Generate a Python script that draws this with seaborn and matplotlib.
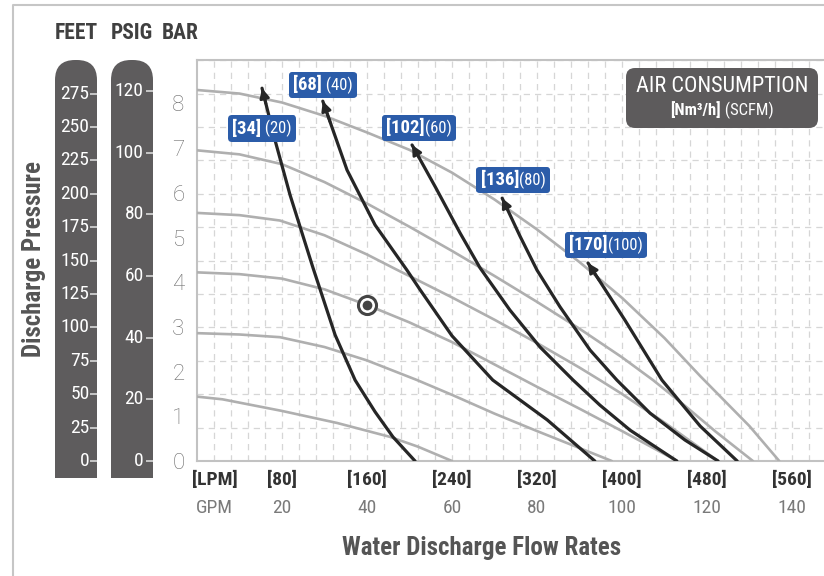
import matplotlib
matplotlib.use("Agg")
import numpy as np
import pandas as pd
import seaborn as sns
import matplotlib.pyplot as plt
from matplotlib.patches import FancyBboxPatch, Rectangle
from matplotlib.lines import Line2D
from matplotlib.offsetbox import TextArea, HPacker, AnnotationBbox
from matplotlib.ticker import FixedLocator
from matplotlib.transforms import Affine2D, blended_transform_factory

sns.set_style("white")
COND = ["Roboto Condensed", "Liberation Sans Narrow", "Roboto", "DejaVu Sans"]
LIGHT = ["Roboto", "DejaVu Sans"]
plt.rcParams["font.family"] = COND

# ---------------- data (GPM vs bar) ----------------
# pump performance curves at different air inlet pressures (grey)
g120_x = [0, 10, 20, 30, 40, 50, 60, 70, 80, 90, 100, 110, 118.4, 130, 137]
g120_y = [8.30, 8.22, 8.02, 7.72, 7.35, 6.96, 6.45, 5.85, 5.18, 4.45, 3.65,
          2.75, 1.90, 0.78, 0.0]
g100_x = [0, 10, 20, 30, 40, 50, 60, 70, 80, 90, 100, 107.3, 115, 122, 130.8]
g100_y = [6.95, 6.86, 6.64, 6.24, 5.76, 5.24, 4.70, 4.14, 3.56, 2.96, 2.32,
          1.81, 1.22, 0.66, 0.0]
g80_x = [0, 10, 19.5, 30, 40, 47, 60, 70, 80, 90, 94.8, 100, 110, 122.6]
g80_y = [5.55, 5.50, 5.38, 5.05, 4.62, 4.28, 3.66, 3.16, 2.64, 2.09, 1.81,
         1.50, 0.86, 0.0]
g60_x = [0, 10, 20, 30, 40, 50, 60, 70, 80, 90, 100, 113]
g60_y = [4.22, 4.18, 4.08, 3.84, 3.49, 3.10, 2.66, 2.16, 1.66, 1.17, 0.67, 0.0]
g40_x = [0, 10, 19.5, 30, 40, 51.8, 60, 70, 80, 90, 97.6]
g40_y = [2.86, 2.83, 2.77, 2.55, 2.25, 1.81, 1.48, 1.06, 0.67, 0.29, 0.0]
g20_x = [0, 6, 20, 33, 45.4, 52, 60]
g20_y = [1.44, 1.38, 1.12, 0.85, 0.54, 0.32, 0.0]
grey_curves = [(g120_x, g120_y), (g100_x, g100_y), (g80_x, g80_y),
               (g60_x, g60_y), (g40_x, g40_y), (g20_x, g20_y)]

# air consumption curves (black), first point = arrow tip
a20_x = [15.3, 18.35, 21.9, 27.3, 32.5, 37.2, 41.9, 46.1, 51.3]
a20_y = [8.34, 7.18, 5.95, 4.32, 2.82, 1.81, 1.10, 0.54, 0.0]
a40_x = [29.6, 35.3, 41.9, 49.4, 52.5, 60.0, 69.6, 82.4, 93.6]
a40_y = [8.05, 6.51, 5.28, 4.27, 3.83, 2.80, 1.81, 0.92, 0.0]
a60_x = [50.6, 56.2, 61.9, 66.6, 73.6, 80.7, 88.5, 94.8, 101.9, 112.9]
a60_y = [7.07, 6.11, 5.10, 4.32, 3.38, 2.55, 1.81, 1.25, 0.69, 0.0]
a80_x = [71.8, 76.0, 80.0, 85.4, 92.5, 98.8, 106.6, 114.8, 122.6]
a80_y = [5.88, 5.03, 4.27, 3.45, 2.48, 1.81, 1.07, 0.47, 0.0]
a100_x = [92.0, 100.7, 109.4, 118.4, 127.1]
a100_y = [4.43, 3.15, 1.81, 0.78, 0.0]
air_curves = [(a20_x, a20_y), (a40_x, a40_y), (a60_x, a60_y),
              (a80_x, a80_y), (a100_x, a100_y)]

# labels of air curves
air_nm3 = ["[34]", "[68]", "[102]", "[136]", "[170]"]
air_scfm = [" (20)", " (40)", "(60)", "(80)", "(100)"]
air_lab_x = [15.3, 29.6, 52.2, 74.4, 96.2]
air_lab_y = [7.44, 8.41, 7.45, 6.29, 4.83]

# operating point
op_x = [40]
op_y = [3.49]

# tick labels
bar_ticks = [0, 1, 2, 3, 4, 5, 6, 7, 8]
feet_ticks = [0, 25, 50, 75, 100, 125, 150, 175, 200, 225, 250, 275]
psig_ticks = [0, 20, 40, 60, 80, 100, 120]
gpm_ticks = [20, 40, 60, 80, 100, 120, 140]
x_lab_pos = [4.2, 20, 40, 60, 80, 100, 120, 140]
lpm_labels = ["[LPM]", "[80]", "[160]", "[240]", "[320]", "[400]", "[480]", "[560]"]
gpm_labels = ["GPM", "20", "40", "60", "80", "100", "120", "140"]

FT_PER_BAR = 33.455
PSI_PER_BAR = 14.5038

# ---------------- figure ----------------
W, H = 824, 576
fig = plt.figure(figsize=(W / 100, H / 100), dpi=100)
fig.patch.set_facecolor("white")
PX = Affine2D().scale(1.0 / W, 1.0 / H) + fig.transFigure


def fx(px):
    return px / W


def fy(py):
    return 1 - py / H


AX_L, AX_R, AX_T, AX_B = 197, 824, 60, 461
ax = fig.add_axes([fx(AX_L), fy(AX_B), fx(AX_R) - fx(AX_L), fy(AX_T) - fy(AX_B)])
XMAX = (AX_R - AX_L) / 4.25
YMAX = (AX_B - AX_T) / 44.7
ax.set_xlim(0, XMAX)
ax.set_ylim(0, YMAX)

# grid
ax.xaxis.set_major_locator(FixedLocator(gpm_ticks))
ax.xaxis.set_minor_locator(FixedLocator(list(np.arange(4, XMAX, 4))))
ax.yaxis.set_major_locator(FixedLocator(bar_ticks))
ax.yaxis.set_minor_locator(FixedLocator([f / FT_PER_BAR for f in range(25, 301, 25)]))
ax.grid(False)
ax.grid(which="both", axis="x", color="#d6d6d6", lw=0.9, ls=(0, (5, 4)))
ax.grid(which="minor", axis="y", color="#d6d6d6", lw=0.9, ls=(0, (5, 4)))
ax.set_axisbelow(True)

ax.tick_params(axis="x", which="major", direction="in", length=7, width=1.2,
               color="#a8a8a8", labelbottom=False)
ax.tick_params(axis="x", which="minor", direction="in", length=4, width=1.0,
               color="#c0c0c0")
ax.tick_params(axis="y", which="major", direction="in", length=7, width=1.2,
               color="#a0a0a0", pad=9)
ax.tick_params(axis="y", which="minor", length=0)
ax.set_yticklabels([str(t) for t in bar_ticks], family=LIGHT, fontweight="light",
                   fontsize=16, color="#6c6c6c")

for s in ["left", "bottom", "top"]:
    ax.spines[s].set_color("#c2c2c2")
    ax.spines[s].set_linewidth(1.5)
ax.spines["right"].set_visible(False)

# grey performance curves
for gx, gy in grey_curves:
    sns.lineplot(x=gx, y=gy, ax=ax, color="#afafaf", lw=1.9, sort=False,
                 estimator=None, zorder=3)

# black air curves with arrows
for (cx, cy) in air_curves:
    sns.lineplot(x=cx, y=cy, ax=ax, color="#262626", lw=2.3, sort=False,
                 estimator=None, zorder=4)
    tx, ty = cx[0], cy[0]
    sx = tx + 0.3 * (cx[1] - tx)
    sy = ty + 0.3 * (cy[1] - ty)
    ax.annotate("", xy=(tx, ty), xytext=(sx, sy),
                arrowprops=dict(arrowstyle="-|>", color="#262626", lw=2.0,
                                mutation_scale=14, shrinkA=0, shrinkB=0),
                zorder=5)

ax.set_xlabel("")
ax.set_ylabel("")
if ax.get_legend():
    ax.get_legend().remove()

# air labels
BLUE = "#2b5ca9"
for n, s, lx, ly in zip(air_nm3, air_scfm, air_lab_x, air_lab_y):
    t1 = TextArea(n, textprops=dict(color="white", fontsize=13.5,
                                    fontweight="bold", family=COND))
    t2 = TextArea(s, textprops=dict(color="white", fontsize=12, family=COND))
    pk = HPacker(children=[t1, t2], pad=0, sep=0, align="baseline")
    ab = AnnotationBbox(pk, (lx, ly), xycoords="data", frameon=True, pad=0.3,
                        box_alignment=(0.5, 0.5),
                        bboxprops=dict(boxstyle="round,rounding_size=0.25",
                                       fc=BLUE, ec="none"), zorder=6)
    ax.add_artist(ab)

# operating point marker
ax.plot(op_x, op_y, "o", ms=13, mfc="white", mec="#444444", mew=2.2, zorder=7)
ax.plot(op_x, op_y, "o", ms=7, mfc="#444444", mec="none", zorder=8)

# AIR CONSUMPTION box
fig.add_artist(FancyBboxPatch((626, H - 128), 192, 60,
                              boxstyle="round,pad=0,rounding_size=9",
                              fc="#5d5b5c", ec="none", transform=PX, zorder=10))
fig.text(fx(722), fy(86), "AIR CONSUMPTION", ha="center", va="center",
         color="white", fontsize=16, zorder=11)
t1 = TextArea("[Nm³/h]", textprops=dict(color="white", fontsize=12,
                                         fontweight="bold", family=COND))
t2 = TextArea(" (SCFM)", textprops=dict(color="white", fontsize=12, family=COND))
pk = HPacker(children=[t1, t2], pad=0, sep=0, align="baseline")
ab = AnnotationBbox(pk, (fx(722), fy(110)), xycoords="figure fraction",
                    frameon=False, box_alignment=(0.5, 0.5), zorder=11)
fig.add_artist(ab)

# x labels
btf = blended_transform_factory(ax.transData, fig.transFigure)
for p, l1, l2 in zip(x_lab_pos, lpm_labels, gpm_labels):
    ax.text(p, fy(480), l1, transform=btf, ha="center", va="center",
            fontsize=14, fontweight="bold", color="#333333", clip_on=False)
    ax.text(p, fy(508), l2, transform=btf, ha="center", va="center",
            fontsize=14, color="#7a7a7a", clip_on=False)

fig.text(fx(482), fy(548), "Water Discharge Flow Rates", ha="center",
         va="center", fontsize=18, fontweight="bold", color="#555555")
fig.text(fx(34), fy(259), "Discharge Pressure", ha="center", va="center",
         rotation=90, fontsize=18, fontweight="bold", color="#555555")

# header
for txt, cx in zip(["FEET", "PSIG", "BAR"], [76, 132, 180]):
    fig.text(fx(cx), fy(33), txt, ha="center", va="center", fontsize=15.5,
             fontweight="bold", color="#404040")

# pressure columns
COLC = "#5e5c5d"
cols = [(55, 97, feet_ticks, FT_PER_BAR, 0.82), (111, 153, psig_ticks, PSI_PER_BAR, 0.78)]
for x0, x1, ticks, conv, labx in cols:
    fig.add_artist(FancyBboxPatch((x0, H - 478), x1 - x0, 478 - 60,
                                  boxstyle="round,pad=0,rounding_size=20",
                                  fc=COLC, ec="none", transform=PX, zorder=0))
    fig.add_artist(Rectangle((x0, H - 478), x1 - x0, 100, fc=COLC, ec="none",
                             transform=PX, zorder=0))
    cax = fig.add_axes([fx(x0), fy(AX_B), fx(x1) - fx(x0), fy(AX_T) - fy(AX_B)])
    cax.set_ylim(0, YMAX)
    cax.set_facecolor("none")
    for s in cax.spines.values():
        s.set_visible(False)
    cax.set_xticks([])
    cax.set_yticks([t / conv for t in ticks])
    cax.tick_params(axis="y", left=False, right=True, direction="in", length=5,
                    width=1.2, color="#d8d8d8", labelleft=False, labelright=False)
    bt = blended_transform_factory(cax.transAxes, cax.transData)
    for t in ticks:
        cax.text(labx, t / conv, str(t), transform=bt, ha="right", va="center",
                 color="white", fontsize=14)

# outer frame
fig.add_artist(Line2D([13, 13, 824], [0, H - 5, H - 5], transform=PX,
                      color="#c6c6c6", lw=1.5))

fig.savefig("out.png", dpi=100, facecolor="white")
